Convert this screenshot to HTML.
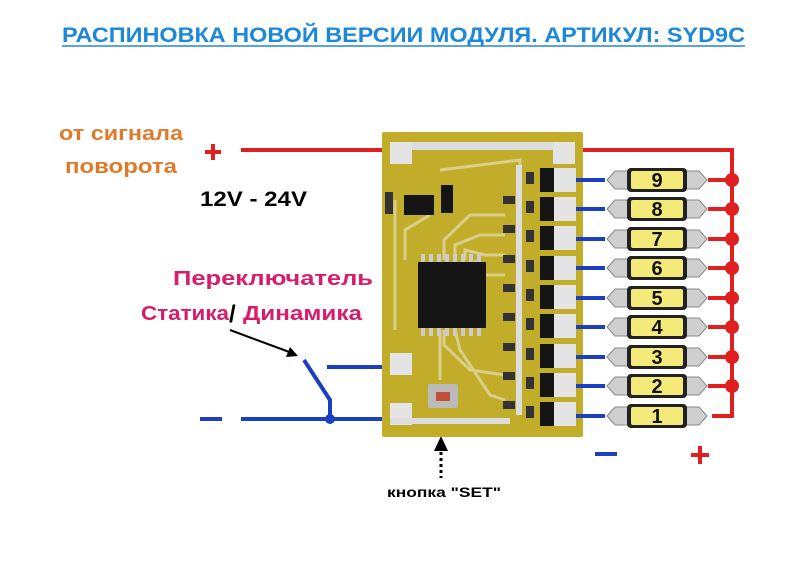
<!DOCTYPE html>
<html><head><meta charset="utf-8"><style>
html,body{margin:0;padding:0;background:#fff;}
svg{display:block;}
text{font-family:"Liberation Sans",sans-serif;font-weight:bold;}
</style></head><body>
<svg width="809" height="576" viewBox="0 0 809 576" xmlns="http://www.w3.org/2000/svg">
<text x="62" y="42" font-size="21" fill="#1e88d8" textLength="683" lengthAdjust="spacingAndGlyphs">РАСПИНОВКА НОВОЙ ВЕРСИИ МОДУЛЯ. АРТИКУЛ: SYD9C</text>
<line x1="62" y1="46" x2="745" y2="46" stroke="#1e88d8" stroke-width="1.5"/>
<text x="59" y="140" font-size="20" fill="#e07a2a" textLength="124" lengthAdjust="spacingAndGlyphs">от сигнала</text>
<text x="65" y="173" font-size="20" fill="#e07a2a" textLength="112" lengthAdjust="spacingAndGlyphs">поворота</text>
<text x="200" y="206" font-size="21" fill="#000" textLength="107" lengthAdjust="spacingAndGlyphs">12V - 24V</text>
<text x="173" y="285" font-size="20" fill="#d81b6a" textLength="200" lengthAdjust="spacingAndGlyphs">Переключатель</text>
<text x="141" y="320" font-size="20" fill="#d81b6a" textLength="88" lengthAdjust="spacingAndGlyphs">Статика</text>
<text x="229" y="322" font-size="24" fill="#000">/</text>
<text x="243" y="320" font-size="20" fill="#d81b6a" textLength="119" lengthAdjust="spacingAndGlyphs">Динамика</text>
<path d="M205 152h16M213 144v16" stroke="#e02020" stroke-width="4"/>
<line x1="200" y1="419" x2="222" y2="419" stroke="#1a3fc0" stroke-width="4"/>
<line x1="595" y1="454" x2="617" y2="454" stroke="#1a3fc0" stroke-width="4"/>
<path d="M691 455h18M700 446v18" stroke="#e02020" stroke-width="4"/>
<line x1="241" y1="150" x2="388" y2="150" stroke="#e02020" stroke-width="4"/>
<line x1="241" y1="419" x2="388" y2="419" stroke="#1a3fc0" stroke-width="4"/>
<line x1="327" y1="367" x2="388" y2="367" stroke="#1a3fc0" stroke-width="4"/>
<polyline points="304,360 330,400 330,419" fill="none" stroke="#1a3fc0" stroke-width="4"/>
<circle cx="330" cy="419" r="5" fill="#1a3fc0"/>
<line x1="230" y1="330" x2="292" y2="353" stroke="#000" stroke-width="2"/>
<polygon points="298,356 286,357 290,347" fill="#000"/>
<polygon points="441,436 434,451 448,451" fill="#000"/>
<line x1="441" y1="452" x2="441" y2="478" stroke="#000" stroke-width="3" stroke-dasharray="3,3"/>
<text x="387" y="497" font-size="14" fill="#000" textLength="114" lengthAdjust="spacingAndGlyphs">кнопка "SET"</text>
<!-- PCB -->
<rect x="382" y="132" width="201" height="305" fill="#c2ad2a" rx="2"/>
<g fill="none" stroke="#d8cf8a" stroke-width="3">
<path d="M405 260 L405 230 L430 215"/><path d="M444 260 L444 240 L470 215 L505 215"/><path d="M455 260 L455 245 L480 235 L505 235"/><path d="M465 260 L465 250 L485 255 L505 255"/><path d="M475 260 L480 275 L505 275"/>
<path d="M444 330 L444 345 L470 370 L505 375"/><path d="M455 330 L460 350 L490 395 L505 400"/><path d="M440 330 L440 380"/><path d="M395 200 L395 330"/><path d="M440 170 L520 160 L520 180"/>
</g>
<rect x="390" y="142" width="185" height="8" fill="#ddd"/>
<rect x="390" y="142" width="22" height="22" fill="#e4e4e4"/>
<rect x="553" y="142" width="22" height="22" fill="#e4e4e4"/>
<rect x="390" y="353" width="22" height="22" fill="#e4e4e4"/>
<rect x="390" y="403" width="22" height="22" fill="#e4e4e4"/>
<rect x="390" y="418" width="120" height="6" fill="#ddd"/>
<rect x="516" y="165" width="6" height="250" fill="#ddd"/>
<g fill="#ccc">
<rect x="421" y="254" width="4" height="8"/><rect x="429" y="254" width="4" height="8"/><rect x="437" y="254" width="4" height="8"/><rect x="445" y="254" width="4" height="8"/><rect x="453" y="254" width="4" height="8"/><rect x="461" y="254" width="4" height="8"/><rect x="469" y="254" width="4" height="8"/><rect x="477" y="254" width="4" height="8"/>
<rect x="421" y="328" width="4" height="8"/><rect x="429" y="328" width="4" height="8"/><rect x="437" y="328" width="4" height="8"/><rect x="445" y="328" width="4" height="8"/><rect x="453" y="328" width="4" height="8"/><rect x="461" y="328" width="4" height="8"/><rect x="469" y="328" width="4" height="8"/><rect x="477" y="328" width="4" height="8"/>
</g>
<rect x="418" y="262" width="68" height="66" fill="#151515"/>
<rect x="404" y="195" width="30" height="20" fill="#151515"/>
<rect x="441" y="185" width="12" height="28" fill="#151515"/>
<rect x="385" y="192" width="8" height="22" fill="#333"/>
<rect x="428" y="384" width="30" height="24" fill="#bbb" rx="2"/>
<rect x="436" y="392" width="14" height="9" fill="#c0503a"/>
<g fill="#151515">
<rect x="540" y="168" width="14" height="24"/><rect x="540" y="197" width="14" height="24"/><rect x="540" y="226" width="14" height="24"/><rect x="540" y="256" width="14" height="24"/><rect x="540" y="285" width="14" height="24"/><rect x="540" y="314" width="14" height="24"/><rect x="540" y="344" width="14" height="24"/><rect x="540" y="373" width="14" height="24"/><rect x="540" y="402" width="14" height="24"/>
</g>
<g fill="#e4e4e4">
<rect x="554" y="168" width="22" height="24"/><rect x="554" y="197" width="22" height="24"/><rect x="554" y="226" width="22" height="24"/><rect x="554" y="256" width="22" height="24"/><rect x="554" y="285" width="22" height="24"/><rect x="554" y="314" width="22" height="24"/><rect x="554" y="344" width="22" height="24"/><rect x="554" y="373" width="22" height="24"/><rect x="554" y="402" width="22" height="24"/>
</g>
<g fill="#333">
<rect x="503" y="196" width="12" height="8"/><rect x="503" y="225" width="12" height="8"/><rect x="503" y="255" width="12" height="8"/><rect x="503" y="284" width="12" height="8"/><rect x="503" y="313" width="12" height="8"/><rect x="503" y="343" width="12" height="8"/><rect x="503" y="372" width="12" height="8"/><rect x="503" y="401" width="12" height="8"/>
<rect x="526" y="172" width="8" height="12"/><rect x="526" y="201" width="8" height="12"/><rect x="526" y="230" width="8" height="12"/><rect x="526" y="260" width="8" height="12"/><rect x="526" y="289" width="8" height="12"/><rect x="526" y="318" width="8" height="12"/><rect x="526" y="348" width="8" height="12"/><rect x="526" y="377" width="8" height="12"/><rect x="526" y="406" width="8" height="12"/>
</g>
<polyline points="583,150 732,150 732,416 712,416" fill="none" stroke="#e02020" stroke-width="4"/>
<g stroke="#1a3fc0" stroke-width="4">
<line x1="576" y1="180" x2="605" y2="180"/><line x1="576" y1="209" x2="605" y2="209"/><line x1="576" y1="239" x2="605" y2="239"/><line x1="576" y1="268" x2="605" y2="268"/><line x1="576" y1="298" x2="605" y2="298"/><line x1="576" y1="327" x2="605" y2="327"/><line x1="576" y1="357" x2="605" y2="357"/><line x1="576" y1="386" x2="605" y2="386"/><line x1="576" y1="416" x2="605" y2="416"/>
</g>
<g stroke="#e02020" stroke-width="4">
<line x1="708" y1="180" x2="732" y2="180"/><line x1="708" y1="209" x2="732" y2="209"/><line x1="708" y1="239" x2="732" y2="239"/><line x1="708" y1="268" x2="732" y2="268"/><line x1="708" y1="298" x2="732" y2="298"/><line x1="708" y1="327" x2="732" y2="327"/><line x1="708" y1="357" x2="732" y2="357"/><line x1="708" y1="386" x2="732" y2="386"/>
</g>
<g fill="#e02020">
<circle cx="732" cy="180" r="7"/><circle cx="732" cy="209" r="7"/><circle cx="732" cy="239" r="7"/><circle cx="732" cy="268" r="7"/><circle cx="732" cy="298" r="7"/><circle cx="732" cy="327" r="7"/><circle cx="732" cy="357" r="7"/><circle cx="732" cy="386" r="7"/>
</g>
<defs>
<g id="led">
<polygon points="-50,0 -42,-9 -27,-9 -27,9 -42,9" fill="#cfcfcf" stroke="#888" stroke-width="1"/>
<polygon points="50,0 42,-9 27,-9 27,9 42,9" fill="#cfcfcf" stroke="#888" stroke-width="1"/>
<rect x="-30" y="-12" width="60" height="24" rx="4" fill="#222"/>
<rect x="-26" y="-9" width="52" height="18" rx="2" fill="#f4ea7a"/>
</g>
</defs>
<use href="#led" x="657" y="180"/><use href="#led" x="657" y="209"/><use href="#led" x="657" y="239"/><use href="#led" x="657" y="268"/><use href="#led" x="657" y="298"/><use href="#led" x="657" y="327"/><use href="#led" x="657" y="357"/><use href="#led" x="657" y="386"/><use href="#led" x="657" y="416"/>
<g font-size="20" fill="#111" text-anchor="middle">
<text x="657" y="187">9</text><text x="657" y="216">8</text><text x="657" y="246">7</text><text x="657" y="275">6</text><text x="657" y="305">5</text><text x="657" y="334">4</text><text x="657" y="364">3</text><text x="657" y="393">2</text><text x="657" y="423">1</text>
</g>
</svg>
</body></html>
